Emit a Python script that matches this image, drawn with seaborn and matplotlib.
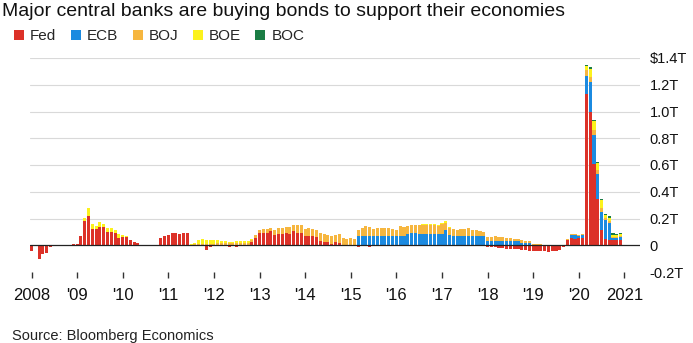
import numpy as np
import pandas as pd
import matplotlib
matplotlib.use("Agg")
import matplotlib.pyplot as plt
from matplotlib.patches import Patch
import seaborn as sns

# Monthly net bond purchases, billions of USD, Jan 2008 .. Dec 2020
fed = [
    -42, 0, -105, -62, -55, -12, 0, 0, 5, 0, 3, 8,            # 2008
    12, 70, 178, 220, 125, 120, 137, 137, 100, 100, 95, 55,    # 2009
    62, 62, 40, 28, 15, 5, 2, 0, 0, 3, 55, 67,                 # 2010
    75, 92, 92, 82, 92, 95, 5, 0, 0, 0, -32, -10,              # 2011
    -8, 5, 0, 0, -10, -5, -10, 0, 0, 5, 25, 55,                # 2012
    92, 92, 92, 105, 75, 87, 87, 92, 87, 105, 92, 92,          # 2013
    67, 67, 67, 62, 35, 25, 25, 12, 22, 15, 0, 0,              # 2014
    0, 0, -12, 0, 0, -10, -5, 0, 0, 0, 0, 0,                   # 2015
    -5, -8, 0, 0, 0, 0, 0, 0, 0, 0, 0, 0,                      # 2016
    0, -5, 0, 0, 0, 0, 0, 0, 0, 0, 0, 0,                       # 2017
    -12, -12, -15, -20, -20, -25, -25, -30, -30, -35, -38, -40,  # 2018
    -40, -42, -45, -45, -48, -45, -40, -38, -10, 40, 55, 50,   # 2019
    52, 52, 1128, 995, 605, 345, 114, 47, 40, 40, 40, 40,      # 2020
]
ecb = [0] * 84 + [
    0, 0, 67, 72, 67, 67, 67, 67, 67, 67, 67, 67,              # 2015
    67, 72, 72, 87, 92, 90, 87, 87, 87, 87, 87, 87,            # 2016
    87, 115, 80, 67, 67, 67, 67, 67, 67, 67, 67, 67,           # 2017
    35, 35, 35, 35, 35, 35, 32, 32, 32, 18, 18, 18,            # 2018
    0, 0, 0, 0, 0, 0, 0, 0, 0, 0, 20, 25,                      # 2019
    20, 22, 141, 225, 222, 190, 135, 140, 130, 15, 15, 20,     # 2020
]
boj = [0] * 36 + [
    0, 0, 0, 0, 0, 0, 0, 8, 10, 10, 10, 10,                    # 2011
    12, 12, 15, 15, 18, 20, 18, 15, 15, 15, 17, 20,            # 2012
    20, 33, 33, 27, 37, 43, 43, 45, 50, 45, 63, 58,            # 2013
    58, 65, 58, 50, 55, 62, 50, 55, 53, 72, 55, 50,            # 2014
    55, 50, 45, 55, 78, 70, 58, 62, 62, 62, 62, 58,            # 2015
    50, 70, 62, 58, 58, 60, 63, 62, 67, 62, 67, 55,            # 2016
    70, 55, 50, 55, 50, 55, 55, 60, 50, 45, 40, 33,            # 2017
    28, 30, 35, 30, 28, 22, 20, 18, 15, 18, 15, 12,            # 2018
    10, 8, 8, 5, 5, 5, 5, 5, 3, 5, 8, 10,                      # 2019
    8, 8, 40, 40, 35, 30, 30, 15, 15, 8, 8, 8,                 # 2020
]
boe = [0] * 12 + [
    0, 0, 25, 55, 37, 25, 38, 25, 30, 30, 17, 32,              # 2009
    13, 5, 0, 0, 0, 0, 0, 0, 0, 0, 0, 0,                       # 2010
    0, 0, 0, 0, 0, 0, 5, 9, 27, 35, 27, 30,                    # 2011
    25, 25, 20, 15, 10, 8, 15, 20, 20, 15, 5, 0,               # 2012
] + [0] * 36 + [
    0, 0, 0, 0, 0, 0, 0, 8, 8, 8, 8, 8,                        # 2016
    8, 8, 5, 0, 0, 0, 0, 0, 0, 0, 0, 0,                        # 2017
] + [0] * 24 + [
    0, 0, 29, 55, 68, 50, 60, 22, 22, 15, 15, 15,              # 2020
]
boc = [0] * 144 + [0, 0, 8, 20, 8, 8, 6, 8, 8, 10, 8, 10]     # 2020

banks = ["Fed", "ECB", "BOJ", "BOE", "BOC"]
colors = ["#dc3128", "#1b8ae0", "#f6b63f", "#fcf21c", "#1b7d45"]
year_ticks = [0, 12, 24, 36, 48, 60, 72, 84, 96, 108, 120, 132, 144, 156]
year_labels = ["2008", "'09", "'10", "'11", "'12", "'13", "'14", "'15",
               "'16", "'17", "'18", "'19", "'20", "2021"]
y_ticks = [-0.2, 0, 0.2, 0.4, 0.6, 0.8, 1.0, 1.2, 1.4]
y_labels = ["-0.2T", "0", "0.2T", "0.4T", "0.6T", "0.8T", "1.0T", "1.2T", "$1.4T"]

series = [fed, ecb, boj, boe, boc]
n = len(fed)
months = np.arange(n)

sns.set_style("white")
plt.rcParams["font.family"] = ["Liberation Sans", "DejaVu Sans"]

W, H = 693, 343
fig = plt.figure(figsize=(W / 100, H / 100), dpi=100)
ax = fig.add_axes([30 / W, (H - 272) / H, 610 / W, 214 / H])

# gridlines
for t in y_ticks[2:]:
    ax.axhline(t, color="#d9d9d9", lw=0.8, zorder=0)

pos_base = np.zeros(n)
for name, vals, col in zip(banks, series, colors):
    v = np.array(vals, dtype=float) / 1000.0
    bottom = np.where(v >= 0, pos_base, 0.0)
    df = pd.DataFrame({"month": months, "value": v})
    sns.barplot(data=df, x="month", y="value", color=col, saturation=1,
                width=0.8, bottom=bottom, linewidth=0, ax=ax, zorder=2)
    pos_base = pos_base + np.clip(v, 0, None)

ax.axhline(0, color="#222222", lw=0.9, zorder=3)

ax.set_xlim(-0.4, 160.1)
ax.set_ylim(-0.2, 1.4)
ax.set_xlabel("")
ax.set_ylabel("")
for s in ax.spines.values():
    s.set_visible(False)

ax.set_xticks(year_ticks)
ax.set_xticklabels(year_labels, fontsize=12, color="#111111")
ax.tick_params(axis="x", length=4.5, width=1.0, color="#333333", pad=7,
               direction="out", bottom=True)
ax.yaxis.tick_right()
ax.set_yticks(y_ticks)
ax.set_yticklabels(y_labels, fontsize=10.5, color="#111111")
ax.tick_params(axis="y", length=0, pad=7)
for lab in ax.get_yticklabels():
    lab.set_horizontalalignment("left")

fig.text(2 / W, (H - 16) / H, "Major central banks are buying bonds to support their economies",
         fontsize=14, color="#111111", va="baseline", ha="left")

handles = [Patch(facecolor=c, edgecolor="none") for c in colors]
fig.legend(handles, banks, loc="center left", bbox_to_anchor=(14 / W, (H - 36) / H),
           ncol=5, frameon=False, fontsize=11, handlelength=0.65, handleheight=0.65,
           handletextpad=0.4, columnspacing=0.95, borderpad=0, borderaxespad=0)

fig.text(12 / W, (H - 336) / H, "Source: Bloomberg Economics", fontsize=10.5,
         color="#222222", va="center", ha="left")

fig.savefig("out.png", dpi=100)
